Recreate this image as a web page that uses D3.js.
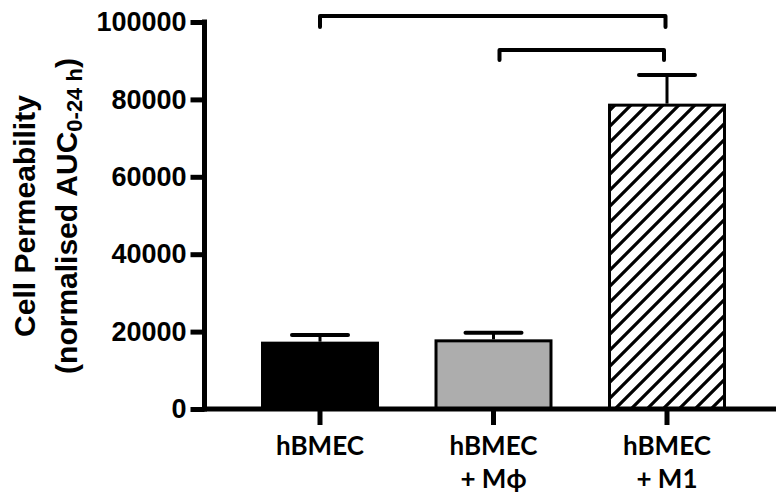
<!DOCTYPE html>
<html>
<head>
<meta charset="utf-8">
<script src="https://cdn.jsdelivr.net/npm/d3@7"></script>
<style>
  html, body { margin: 0; padding: 0; background: #fff; }
  svg { display: block; }
</style>
</head>
<body>
<svg id="chart" width="776" height="495"></svg>
<script>
// ---- data ----
const categories = ["hBMEC", "hBMEC|+ Mϕ", "hBMEC|+ M1"];
const meanValues = [17400, 18000, 78900];
const semValues = [1700, 1700, 7400];
const fills = ["#000000", "#adadad", "hatch"];
const yTicks = [0, 20000, 40000, 60000, 80000, 100000];
const comparisons = [[0, 2], [1, 2]];

// ---- layout ----
const svg = d3.select("#chart");
const x = d3.scaleBand().domain(categories).range([233.25, 753.75])
  .paddingInner(0.32).paddingOuter(0.16);
const y = d3.scaleLinear().domain([0, 100000]).range([409, 22]);
const axisX = 204.5;

// hatch pattern
const defs = svg.append("defs");
const pat = defs.append("pattern").attr("id", "hatch")
  .attr("patternUnits", "userSpaceOnUse").attr("width", 16).attr("height", 16);
pat.append("rect").attr("width", 16).attr("height", 16).attr("fill", "#fff");
pat.append("path").attr("d", "M-4,4 L4,-4 M0,16 L16,0 M12,20 L20,12")
  .attr("stroke", "#000").attr("stroke-width", 3.2);

// bars
const bars = categories.map((c, i) => ({c, v: meanValues[i], e: semValues[i], f: fills[i]}));
svg.append("g").selectAll("rect").data(bars).join("rect")
  .attr("x", d => x(d.c) + 1.5)
  .attr("width", x.bandwidth() - 3)
  .attr("y", d => y(d.v) + 1.5)
  .attr("height", d => y(0) - y(d.v) - 1.5)
  .attr("fill", d => d.f === "hatch" ? "url(#hatch)" : d.f)
  .attr("stroke", "#000").attr("stroke-width", 3);

// error bars
const eg = svg.append("g").selectAll("g").data(bars).join("g");
eg.append("line")
  .attr("x1", d => x(d.c) + x.bandwidth() / 2).attr("x2", d => x(d.c) + x.bandwidth() / 2)
  .attr("y1", d => y(d.v)).attr("y2", d => y(d.v + d.e))
  .attr("stroke", "#000").attr("stroke-width", 3);
eg.append("line")
  .attr("x1", d => x(d.c) + x.bandwidth() / 2 - 28).attr("x2", d => x(d.c) + x.bandwidth() / 2 + 28)
  .attr("y1", d => y(d.v + d.e)).attr("y2", d => y(d.v + d.e))
  .attr("stroke", "#000").attr("stroke-width", 4).attr("stroke-linecap", "round");

// y axis
const yAxis = svg.append("g").attr("transform", `translate(${axisX},0)`)
  .call(d3.axisLeft(y).tickValues(yTicks).tickSize(14).tickPadding(4).tickFormat(d3.format("d")));
yAxis.select(".domain").remove();
yAxis.selectAll(".tick line").attr("stroke", "#000").attr("stroke-width", 5);
yAxis.selectAll(".tick text")
  .attr("font-family", "'Liberation Sans', Arial, sans-serif")
  .attr("font-weight", "bold").attr("font-size", 27).attr("fill", "#000");
svg.append("line").attr("x1", axisX).attr("x2", axisX)
  .attr("y1", y(100000) - 2.5).attr("y2", y(0) + 2.5)
  .attr("stroke", "#000").attr("stroke-width", 5);

// x axis
svg.append("line").attr("x1", axisX - 2.5).attr("x2", 776)
  .attr("y1", y(0)).attr("y2", y(0))
  .attr("stroke", "#000").attr("stroke-width", 5);
const xAxis = svg.append("g").attr("transform", `translate(0,${y(0)})`)
  .call(d3.axisBottom(x).tickSize(16).tickSizeOuter(0).tickFormat(""));
xAxis.select(".domain").remove();
xAxis.selectAll(".tick line").attr("stroke", "#000").attr("stroke-width", 5);

const xl = svg.append("g").selectAll("text").data(categories).join("text")
  .attr("text-anchor", "middle")
  .attr("font-family", "Lato, 'Open Sans', sans-serif")
  .attr("font-weight", "bold").attr("font-size", 26).attr("fill", "#000");
xl.each(function(d) {
  const parts = d.split("|");
  const t = d3.select(this);
  parts.forEach((p, k) => {
    t.append("tspan").attr("x", x(d) + x.bandwidth() / 2)
      .attr("y", k === 0 ? 455 : 488).text(p);
  });
});

// y label
const yl = svg.append("g")
  .attr("font-family", "'Liberation Sans', Arial, sans-serif")
  .attr("font-weight", "bold").attr("fill", "#000");
yl.append("text").attr("transform", "translate(35,216) rotate(-90)")
  .attr("text-anchor", "middle").attr("font-size", 30).text("Cell Permeability");
const l2 = yl.append("text").attr("transform", "translate(77,216) rotate(-90)")
  .attr("text-anchor", "middle").attr("font-size", 30);
l2.append("tspan").text("(normalised AUC");
l2.append("tspan").attr("font-size", 22).attr("dy", 5).text("0-24 h");
l2.append("tspan").attr("dy", -5).text(")");

// significance brackets
const levels = [16, 50];
const legs = [11, 10];
const offs = [[0, -1.5], [6, -3]];
comparisons.forEach((cmp, i) => {
  const x1 = x(categories[cmp[0]]) + x.bandwidth() / 2 + offs[i][0];
  const x2 = x(categories[cmp[1]]) + x.bandwidth() / 2 + offs[i][1];
  svg.append("path")
    .attr("d", `M${x1},${levels[i] + legs[i]} V${levels[i]} H${x2} V${levels[i] + legs[i]}`)
    .attr("fill", "none").attr("stroke", "#000").attr("stroke-width", 4)
    .attr("stroke-linecap", "round").attr("stroke-linejoin", "round");
});
</script>
</body>
</html>
